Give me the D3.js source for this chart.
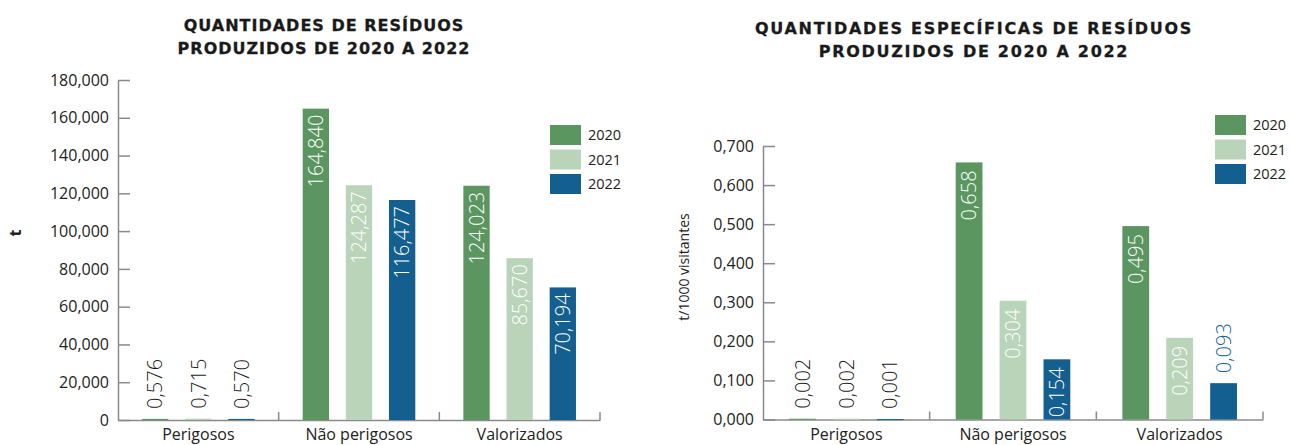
<!DOCTYPE html>
<html>
<head>
<meta charset="utf-8">
<script src="https://cdn.jsdelivr.net/npm/d3@7"></script>
<style>
  html, body { margin: 0; padding: 0; background: #fff; }
  svg { display: block; }
</style>
</head>
<body>
<svg id="chart" width="1290" height="445"></svg>
<script>
// Categories and series
const categories = ["Perigosos", "Não perigosos", "Valorizados"];
const years = ["2020", "2021", "2022"];

// Quantities produced (t), per category, per year
const totals2020 = [0.576, 164.840, 124.023];
const totals2021 = [0.715, 124.287, 85.670];
const totals2022 = [0.570, 116.477, 70.194];

// Specific quantities (t/1000 visitantes), per category, per year
const specific2020 = [0.002, 0.658, 0.495];
const specific2021 = [0.002, 0.304, 0.209];
const specific2022 = [0.001, 0.154, 0.093];

// Tick values
const totalTicks = [0, 20, 40, 60, 80, 100, 120, 140, 160, 180];
const specificTicks = [0, 0.1, 0.2, 0.3, 0.4, 0.5, 0.6, 0.7];

const yearColors = { "2020": "#5b9560", "2021": "#b9d4b8", "2022": "#135f8f" };

const pt = d3.formatLocale({ decimal: ",", thousands: ".", grouping: [3], currency: ["", ""] });
const f3 = pt.format(".3f");

const svg = d3.select("#chart");

function drawPanel(opt) {
  const g = svg.append("g");
  const x = d3.scaleBand().domain(categories).range([opt.x0, opt.x1]);
  const bw = x.bandwidth();
  const xs = d3.scaleBand().domain(years)
    .range([bw / 2 - opt.groupHalf, bw / 2 + opt.groupHalf])
    .paddingInner(0.39);
  const y = d3.scaleLinear().domain(opt.domain).range([opt.yBase, opt.yTop]);

  // title
  const title = g.append("text")
    .attr("x", opt.titleX)
    .attr("text-anchor", "middle")
    .attr("font-family", "DejaVu Sans")
    .attr("font-weight", "bold")
    .attr("font-size", 16)
    .attr("letter-spacing", opt.titleSpacing)
    .attr("fill", "#1a1a1a")
    .attr("stroke", "#1a1a1a")
    .attr("stroke-width", 0.3);
  opt.title.forEach((line, i) => {
    title.append("tspan").attr("x", opt.titleX).attr("y", opt.titleY + i * 23).text(line);
  });

  // y axis
  const yAxis = d3.axisLeft(y)
    .tickValues(opt.ticks)
    .tickSizeInner(-12)
    .tickSizeOuter(0)
    .tickPadding(9)
    .tickFormat(opt.tickFormat);
  const ya = g.append("g").attr("transform", `translate(${opt.x0},0)`).call(yAxis);
  ya.select(".domain").attr("stroke", "#8a8a8a").attr("stroke-width", 1.5);
  ya.selectAll(".tick line").attr("stroke", "#8a8a8a").attr("stroke-width", 1.5);
  ya.selectAll(".tick text")
    .attr("font-family", "Open Sans")
    .attr("font-size", 16)
    .attr("fill", "#222");

  // y axis title
  g.append("text")
    .attr("transform", `translate(${opt.yTitleX},${opt.yTitleY}) rotate(-90)`)
    .attr("text-anchor", "middle")
    .attr("font-family", "Open Sans")
    .attr("font-weight", opt.yTitleWeight)
    .attr("font-size", opt.yTitleSize)
    .attr("fill", "#222")
    .text(opt.yTitle);

  // x axis
  const xAxis = d3.axisBottom(x).tickSize(0).tickPadding(9);
  const xa = g.append("g").attr("transform", `translate(0,${opt.yBase})`).call(xAxis);
  xa.select(".domain").attr("stroke", "#8a8a8a").attr("stroke-width", 1.5);
  xa.selectAll(".tick text")
    .attr("font-family", "Open Sans")
    .attr("font-size", 16)
    .attr("fill", "#222");
  // group separators
  xa.selectAll("line.sep").data(categories).join("line")
    .attr("class", "sep")
    .attr("x1", d => x(d) + bw).attr("x2", d => x(d) + bw)
    .attr("y1", 0).attr("y2", -8)
    .attr("stroke", "#8a8a8a").attr("stroke-width", 1.5);

  // bars
  const rows = categories.map((c, i) => ({
    cat: c,
    vals: years.map((yr, k) => ({ cat: c, year: yr, v: opt.series[k][i] }))
  }));
  const grp = g.selectAll("g.cat").data(rows).join("g")
    .attr("class", "cat")
    .attr("transform", d => `translate(${x(d.cat)},0)`);

  grp.selectAll("rect").data(d => d.vals).join("rect")
    .attr("x", d => xs(d.year))
    .attr("width", xs.bandwidth())
    .attr("y", d => y(d.v))
    .attr("height", d => Math.max(1, opt.yBase - y(d.v)))
    .attr("fill", d => yearColors[d.year]);

  // value labels: inside the bar when it fits, otherwise above it
  grp.selectAll("text.val").data(d => d.vals).join("text")
    .attr("class", "val")
    .attr("dy", "0.36em")
    .attr("font-family", "Open Sans")
    .attr("font-weight", 300)
    .attr("font-size", 20)
    .text(d => f3(d.v))
    .each(function (d) {
      const cx = xs(d.year) + xs.bandwidth() / 2;
      const h = opt.yBase - y(d.v);
      const len = this.getComputedTextLength();
      const t = d3.select(this);
      if (h > len + 10) {
        t.attr("transform", `translate(${cx},${y(d.v) + opt.inGap}) rotate(-90)`)
          .attr("text-anchor", "end")
          .attr("fill", "#ffffff");
      } else {
        t.attr("transform", `translate(${cx},${y(d.v) - opt.outGap}) rotate(-90)`)
          .attr("text-anchor", "start")
          .attr("fill", h < 3 ? "#1a1a1a" : yearColors[d.year]);
      }
    });

  // legend
  const lg = g.append("g").attr("transform", `translate(${opt.legendX},${opt.legendY})`);
  const li = lg.selectAll("g").data(years).join("g")
    .attr("transform", (d, i) => `translate(0,${i * 24.5})`);
  li.append("rect").attr("width", 31).attr("height", 20).attr("fill", d => yearColors[d]);
  li.append("text")
    .attr("x", 38).attr("y", 10).attr("dy", "0.36em")
    .attr("font-family", "Open Sans")
    .attr("font-size", 14.5)
    .attr("fill", "#222")
    .text(d => d);
}

drawPanel({
  x0: 118, x1: 600, yBase: 420, yTop: 80,
  domain: [0, 180], ticks: totalTicks,
  tickFormat: d => d === 0 ? "0" : f3(d),
  groupHalf: 56.3,
  series: [totals2020, totals2021, totals2022],
  title: ["QUANTIDADES DE RESÍDUOS", "PRODUZIDOS DE 2020 A 2022"],
  titleX: 324, titleY: 31, titleSpacing: 1.0,
  yTitle: "t", yTitleX: 21, yTitleY: 233, yTitleSize: 16, yTitleWeight: "bold",
  inGap: 6, outGap: 10,
  legendX: 550, legendY: 125
});

drawPanel({
  x0: 763, x1: 1263, yBase: 419.5, yTop: 146,
  domain: [0, 0.7], ticks: specificTicks,
  tickFormat: d => f3(d),
  groupHalf: 57.3,
  series: [specific2020, specific2021, specific2022],
  title: ["QUANTIDADES ESPECÍFICAS DE RESÍDUOS", "PRODUZIDOS DE 2020 A 2022"],
  titleX: 974, titleY: 34, titleSpacing: 1.7,
  yTitle: "t/1000 visitantes", yTitleX: 689, yTitleY: 267, yTitleSize: 14, yTitleWeight: 500,
  inGap: 8, outGap: 10,
  legendX: 1215, legendY: 115
});
</script>
</body>
</html>
